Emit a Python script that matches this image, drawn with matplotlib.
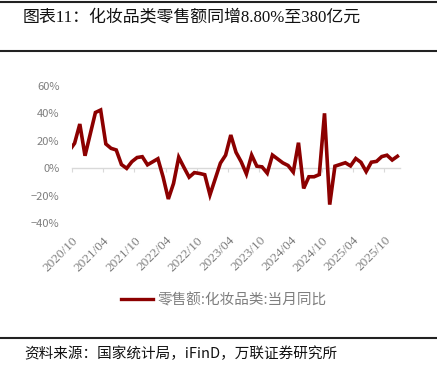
import matplotlib
matplotlib.use("Agg")
import matplotlib.pyplot as plt
from matplotlib.lines import Line2D
from matplotlib.ticker import FuncFormatter, FixedLocator

plt.rcParams['font.family'] = ['Noto Sans CJK SC', 'DejaVu Sans']

# ---- data (month, YoY %) ; January merged into Jan-Feb, shown at Feb ----
months = ["2020-09", "2020-10", "2020-11", "2020-12",
          "2021-02", "2021-03", "2021-04", "2021-05", "2021-06", "2021-07", "2021-08", "2021-09", "2021-10", "2021-11", "2021-12",
          "2022-02", "2022-03", "2022-04", "2022-05", "2022-06", "2022-07", "2022-08", "2022-09", "2022-10", "2022-11", "2022-12",
          "2023-02", "2023-03", "2023-04", "2023-05", "2023-06", "2023-07", "2023-08", "2023-09", "2023-10", "2023-11", "2023-12",
          "2024-02", "2024-03", "2024-04", "2024-05", "2024-06", "2024-07", "2024-08", "2024-09", "2024-10", "2024-11", "2024-12",
          "2025-02", "2025-03", "2025-04", "2025-05", "2025-06", "2025-07", "2025-08", "2025-09", "2025-10", "2025-11", "2025-12"]
values = [13.0, 18.3, 32.3, 9.2,
          40.7, 42.5, 17.8, 14.6, 13.4, 2.8, 0.0, 4.9, 7.9, 8.5, 2.6,
          7.0, -6.3, -22.3, -11.0, 8.1, 0.7, -6.4, -3.1, -3.7, -4.6, -19.3,
          3.8, 9.6, 24.3, 11.7, 4.8, -4.1, 9.7, 1.6, 1.1, -3.5, 9.7,
          4.0, 2.1, -2.7, 18.7, -14.6, -6.1, -6.1, -4.5, 40.1, -26.4, 1.6,
          4.1, 1.8, 7.2, 4.4, -2.3, 4.5, 5.1, 8.6, 9.6, 6.1, 8.8]
tick_labels = ["2020/10", "2021/04", "2021/10", "2022/04", "2022/10", "2023/04",
               "2023/10", "2024/04", "2024/10", "2025/04", "2025/10"]
y_ticks = [-40, -20, 0, 20, 40, 60]
series_name = "零售额:化妆品类:当月同比"
title = "图表11：化妆品类零售额同增8.80%至380亿元"
source = "资料来源：国家统计局，iFinD，万联证券研究所"

def month_index(s):
    y, m = s.replace("/", "-").split("-")
    return (int(y) - 2020) * 12 + (int(m) - 10)

x = [month_index(m) + 0.5 for m in months]
tick_pos = [month_index(t) for t in tick_labels]

W, H = 437, 380
fig = plt.figure(figsize=(W / 100, H / 100), dpi=100)
ax = fig.add_axes([72 / W, 1 - 223.3 / H, (400 - 72) / W, (223.3 - 86) / H])

red = '#8c0000'
line, = ax.plot(x, values, color=red, lw=2.6, solid_joinstyle='miter', clip_on=True)

ax.set_xlim(0, 63)
ax.set_ylim(-40, 60)
ax.yaxis.set_major_locator(FixedLocator(y_ticks))
ax.yaxis.set_major_formatter(FuncFormatter(lambda v, p: f"{v:.0f}%".replace("-", "\u2212")))
ax.tick_params(axis='y', length=0, pad=9, labelcolor='#7f7f7f', labelsize=8)
for s in ['left', 'top', 'right']:
    ax.spines[s].set_visible(False)
ax.spines['bottom'].set_position(('data', 0))
ax.spines['bottom'].set_color('#d9d9d9')
ax.spines['bottom'].set_linewidth(1.0)
ax.spines['bottom'].set_zorder(0)
ax.set_xticks(tick_pos)
ax.tick_params(axis='x', length=3, width=0.8, color='#d9d9d9', labelbottom=False)

sec = ax.secondary_xaxis(0)
sec.spines['bottom'].set_visible(False)
sec.set_xticks(tick_pos)
sec.set_xticklabels(tick_labels, rotation=45, ha='right', rotation_mode='anchor',
                    family=['Liberation Serif', 'DejaVu Serif'], fontsize=9.5, color='#7f7f7f')
sec.tick_params(axis='x', length=0, pad=8)

fig.legend([Line2D([], [], color=red, lw=2.4)], [series_name], loc='center',
           bbox_to_anchor=(224 / W, 1 - 300 / H), frameon=False, fontsize=10.5,
           handlelength=2.2, handletextpad=0.3, labelcolor='#7f7f7f')

fig.text(23 / W, 1 - 17.5 / H, title, ha='left', va='center', fontsize=12.2,
         family=['Liberation Serif', 'Noto Sans CJK SC'], color='#111111')
fig.text(24 / W, 1 - 354 / H, source, ha='left', va='center', fontsize=10.5,
         color='#111111')

for yy in [1.5, 51, 338.3]:
    fig.add_artist(Line2D([0, 1], [1 - yy / H, 1 - yy / H], transform=fig.transFigure,
                          color='#222222', lw=1.5))

fig.savefig("out.png", dpi=100)
